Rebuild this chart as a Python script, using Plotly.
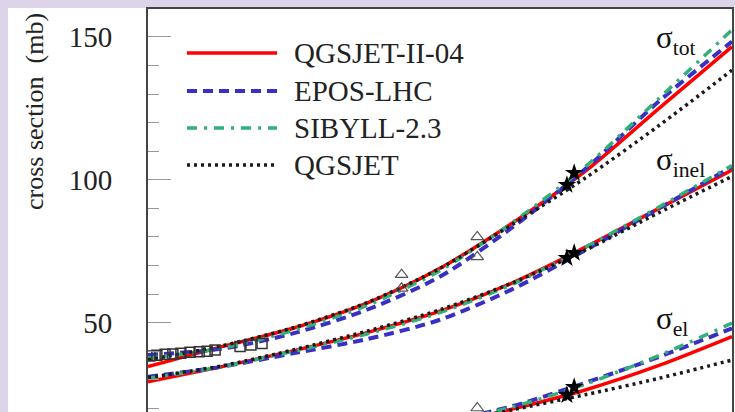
import plotly.graph_objects as go

# ---------------- data ----------------
# sqrt(s) in GeV on a log axis (log10 grid 1.0 ... 5.0)
energy = [10, 31.6, 100, 316, 1000, 3162, 10000, 31623, 100000]

tot_qgsjet2 = [34.6, 41.5, 48.1, 56.8, 69.0, 85.0, 103.2, 125.0, 146.6]
tot_epos    = [38.7, 40.8, 46.3, 54.5, 66.1, 83.5, 104.0, 127.5, 148.4]
tot_sibyll  = [37.5, 41.0, 47.3, 56.0, 68.2, 85.2, 104.8, 128.5, 152.5]
tot_qgsjet  = [37.0, 41.8, 48.3, 57.0, 69.0, 84.5, 100.8, 119.0, 138.4]

inel_qgsjet2 = [29.3, 34.5, 40.2, 46.5, 54.0, 64.0, 76.5, 90.0, 103.4]
inel_epos    = [31.0, 34.5, 39.3, 44.2, 51.0, 61.8, 75.5, 90.0, 104.5]
inel_sibyll  = [30.5, 34.5, 40.0, 46.0, 53.5, 63.5, 76.5, 90.5, 105.0]
inel_qgsjet  = [30.8, 34.8, 40.5, 47.0, 54.5, 64.0, 75.5, 88.5, 101.2]

el_qgsjet2 = [5.3, 6.5, 7.8, 10.0, 14.0, 19.8, 26.5, 35.0, 45.1]
el_epos    = [7.5, 7.0, 8.0, 10.5, 15.0, 20.8, 29.0, 38.0, 48.0]
el_sibyll  = [7.0, 7.0, 8.0, 10.5, 14.8, 20.5, 28.5, 38.5, 49.8]
el_qgsjet  = [5.5, 6.5, 7.8, 10.0, 14.0, 19.5, 24.8, 30.5, 36.9]

# measurements
sq_energy = [10.3, 11.5, 13.1, 14.8, 16.8, 19.4, 22.4, 25.4, 28.8, 42.7, 50.7, 60.4]
sq_tot    = [38.3, 38.6, 38.9, 39.0, 39.3, 39.6, 39.8, 40.0, 40.4, 41.6, 42.2, 42.7]

tri_energy = [546, 546, 1800, 1800, 1800]
tri_sigma  = [66.8, 62.0, 80.0, 73.0, 20.1]

star_energy = [7400, 8300, 7400, 8300, 7400, 8300]
star_sigma  = [98.2, 102.4, 72.6, 74.4, 24.6, 27.4]

models = ["QGSJET-II-04", "EPOS-LHC", "SIBYLL-2.3", "QGSJET"]
colors = ["#ff0000", "#3a2fc4", "#33b07a", "#1a1a1a"]
dashes = ["solid", "10px,6px", "10px,7px,3px,7px", "3px,4px"]
widths = [3.5, 4, 3.5, 3.5]

curves = {
    "QGSJET-II-04": [tot_qgsjet2, inel_qgsjet2, el_qgsjet2],
    "EPOS-LHC": [tot_epos, inel_epos, el_epos],
    "SIBYLL-2.3": [tot_sibyll, inel_sibyll, el_sibyll],
    "QGSJET": [tot_qgsjet, inel_qgsjet, el_qgsjet],
}

FONT = "Liberation Serif"
W, H = 735, 412
L, R, T, B = 148, 3, 9, 0


def px(x):
    return (x - L) / (W - L - R)


def py(y):
    return (H - B - y) / (H - T - B)


fig = go.Figure()

for m, c, d, w in zip(models, colors, dashes, widths):
    for ys in curves[m]:
        fig.add_trace(go.Scatter(
            x=energy, y=ys, mode="lines", name=m, showlegend=False,
            line=dict(color=c, dash=d, width=w, shape="spline", smoothing=0.8),
        ))

fig.add_trace(go.Scatter(
    x=sq_energy, y=sq_tot, mode="markers", showlegend=False,
    marker=dict(symbol="square-open", size=10, color="#333", line=dict(width=1.5)),
))
fig.add_trace(go.Scatter(
    x=tri_energy, y=tri_sigma, mode="markers", showlegend=False,
    marker=dict(symbol="triangle-up-open", size=11, color="#555", line=dict(width=1.2)),
))
fig.add_trace(go.Scatter(
    x=star_energy, y=star_sigma, mode="markers", showlegend=False,
    marker=dict(symbol="star", size=14, color="#000"),
))

shapes = [
    dict(type="rect", xref="paper", yref="paper", x0=px(8), x1=px(740),
         y0=py(420), y1=py(8), fillcolor="white", line=dict(width=0), layer="below"),
]
annotations = []

legend_rows = [53, 91, 128, 165]
for m, c, d, w, ry in zip(models, colors, dashes, widths, legend_rows):
    shapes.append(dict(type="line", xref="paper", yref="paper",
                       x0=px(187), x1=px(277), y0=py(ry), y1=py(ry),
                       line=dict(color=c, dash=d, width=w)))
    annotations.append(dict(xref="paper", yref="paper", x=px(292), y=py(ry),
                            text=m, showarrow=False, xanchor="left", yanchor="middle",
                            font=dict(family=FONT, size=29, color="#222")))

for txt, x0, y0 in [("σ<sub>tot</sub>", 654, 40), ("σ<sub>inel</sub>", 654, 162),
                    ("σ<sub>el</sub>", 654, 321)]:
    annotations.append(dict(xref="paper", yref="paper", x=px(x0), y=py(y0),
                            text=txt, showarrow=False, xanchor="left", yanchor="middle",
                            font=dict(family=FONT, size=31, color="#111")))

annotations.append(dict(xref="paper", yref="paper", x=px(35), y=py(112),
                        text="cross section  (mb)", textangle=-90, showarrow=False,
                        xanchor="center", yanchor="middle",
                        font=dict(family=FONT, size=26, color="#222")))

fig.update_layout(
    width=W, height=H,
    margin=dict(l=L, r=R, t=T, b=B, pad=0),
    paper_bgcolor="#ddd4ea",
    plot_bgcolor="white",
    showlegend=False,
    shapes=shapes,
    annotations=annotations,
    xaxis=dict(type="log", range=[1, 5], side="top", showline=True, linecolor="#444",
               linewidth=2, showgrid=False, zeroline=False, ticks="",
               showticklabels=False),
    yaxis=dict(range=[18.7, 159.8], showline=True, mirror=True, linecolor="#444",
               linewidth=2, showgrid=False, zeroline=False,
               tickvals=[50, 100, 150], ticks="inside", ticklen=23, tickcolor="#999",
               tickwidth=1, ticklabelstandoff=28,
               tickfont=dict(family=FONT, size=29, color="#222"),
               minor=dict(tickvals=[20, 30, 40, 60, 70, 80, 90, 110, 120, 130, 140],
                          ticks="inside", ticklen=11, tickcolor="#999", tickwidth=1)),
)

fig.write_html("out.html")
